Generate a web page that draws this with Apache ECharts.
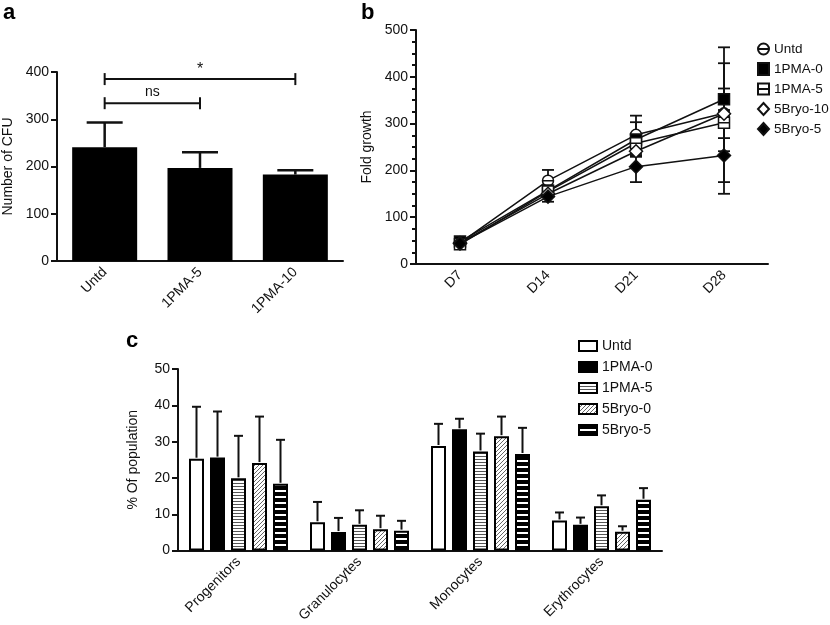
<!DOCTYPE html>
<html>
<head>
<meta charset="utf-8">
<script src="https://cdn.jsdelivr.net/npm/echarts@6/dist/echarts.min.js"></script>
<style>
  html, body { margin: 0; background: #fff; }
  #main { width: 830px; height: 625px; }
</style>
</head>
<body>
<div id="main"></div>
<script>
// panel a: colony forming units
const cfuGroups = ['Untd', '1PMA-5', '1PMA-10'];
const cfuMean = [241, 197, 183];
const cfuErr = [52, 33, 9];
const cfuSig = [[0, 1, 334, 'ns'], [0, 2, 385, '*']];

// panel b: fold growth
const days = ['D7', 'D14', 'D21', 'D28'];
const growthNames = ['Untd', '1PMA-0', '1PMA-5', '5Bryo-10', '5Bryo-5'];
const growthUntd = [45, 178, 276, 322];
const growthPma0 = [48, 157, 266, 352];
const growthPma5 = [42, 155, 258, 302];
const growthBryo10 = [45, 150, 241, 321];
const growthBryo5 = [44, 144, 208, 232];
const growthErrUntd = [3, 23, 41, 53];
const growthErrPma0 = [4, 8, 37, 111];
const growthErrPma5 = [3, 6, 10, 127];
const growthErrBryo10 = [3, 6, 10, 8];
const growthErrBryo5 = [3, 11, 33, 82];

// panel c: population breakdown
const cellTypes = ['Progenitors', 'Granulocytes', 'Monocytes', 'Erythrocytes'];
const popNames = ['Untd', '1PMA-0', '1PMA-5', '5Bryo-0', '5Bryo-5'];
const popUntd = [25.3, 7.8, 28.8, 8.3];
const popPma0 = [25.6, 5.1, 33.4, 7.1];
const popPma5 = [19.9, 7.1, 27.3, 12.2];
const popBryo0 = [24.1, 5.9, 31.5, 5.2];
const popBryo5 = [18.4, 5.5, 26.6, 14.0];
const popErrUntd = [14.3, 5.6, 6.1, 2.2];
const popErrPma0 = [12.7, 3.9, 2.9, 2.0];
const popErrPma5 = [11.7, 4.0, 4.9, 3.0];
const popErrBryo0 = [12.8, 3.7, 5.4, 1.5];
const popErrBryo5 = [12.1, 2.7, 7.2, 3.2];

const FONT = "'Liberation Sans', Arial, sans-serif";
const INK = '#111';
const BAR_W = 15;
const BAR_PITCH = 21;

function pattern(w, h, draw) {
  const c = document.createElement('canvas');
  c.width = w; c.height = h;
  const g = c.getContext('2d');
  g.fillStyle = '#fff';
  g.fillRect(0, 0, w, h);
  draw(g);
  return { image: c, repeat: 'repeat' };
}

const fillHoriz = pattern(2, 3, g => { g.fillStyle = '#555'; g.fillRect(0, 0, 2, 1); });
const fillDiag = pattern(4, 4, g => {
  g.strokeStyle = '#666'; g.lineWidth = 1;
  g.beginPath(); g.moveTo(0, 4); g.lineTo(4, 0); g.moveTo(-1, 1); g.lineTo(1, -1); g.moveTo(3, 5); g.lineTo(5, 3); g.stroke();
});
const fillThick = pattern(2, 6, g => { g.fillStyle = '#000'; g.fillRect(0, 0, 2, 4); });
const popFills = ['#fff', '#000', fillHoriz, fillDiag, fillThick];

const circleLine = 'path://M0,10a10,10 0 1,0 20,0a10,10 0 1,0 -20,0ZM0,10L20,10';
const squareLine = 'path://M0,0L20,0L20,20L0,20ZM0,10L20,10';
const growthSymbols = [circleLine, 'rect', squareLine, 'diamond', 'diamond'];
const growthFills = ['#fff', '#000', '#fff', '#fff', '#000'];
const growthData = [growthUntd, growthPma0, growthPma5, growthBryo10, growthBryo5];
const growthErrs = [growthErrUntd, growthErrPma0, growthErrPma5, growthErrBryo10, growthErrBryo5];
const popData = [popUntd, popPma0, popPma5, popBryo0, popBryo5];
const popErrs = [popErrUntd, popErrPma0, popErrPma5, popErrBryo0, popErrBryo5];

function axisX(gridIndex, data) {
  return {
    type: 'category', gridIndex: gridIndex, data: data,
    axisLine: { lineStyle: { color: INK, width: 2 } },
    axisTick: { alignWithLabel: true, length: 6, lineStyle: { color: INK, width: 2 } },
    axisLabel: { rotate: 45, fontSize: 14, color: INK, fontFamily: FONT, margin: 9 },
    splitLine: { show: false }
  };
}

function axisY(gridIndex, max, interval, name, gap, minor) {
  return {
    type: 'value', gridIndex: gridIndex, min: 0, max: max, interval: interval,
    name: name, nameLocation: 'middle', nameGap: gap,
    nameTextStyle: { fontSize: 14, color: INK, fontFamily: FONT },
    axisLine: { show: true, lineStyle: { color: INK, width: 2 } },
    axisTick: { show: true, length: 6, lineStyle: { color: INK, width: 2 } },
    minorTick: { show: !!minor, splitNumber: 4, length: 4, lineStyle: { color: INK, width: 2 } },
    axisLabel: { fontSize: 14, color: INK, fontFamily: FONT, margin: 8 },
    splitLine: { show: false }
  };
}

// vertical error bar with a cap on top
function errorBar(api, x, yLow, yHigh, cap, width) {
  return [
    { type: 'line', shape: { x1: x, y1: yLow, x2: x, y2: yHigh }, style: { stroke: INK, lineWidth: width } },
    { type: 'line', shape: { x1: x - cap, y1: yHigh, x2: x + cap, y2: yHigh }, style: { stroke: INK, lineWidth: width } }
  ];
}

const series = [];

// a
series.push({
  type: 'bar', xAxisIndex: 0, yAxisIndex: 0, barWidth: 65, data: cfuMean,
  itemStyle: { color: '#000' }, silent: true, z: 2
});
series.push({
  type: 'custom', xAxisIndex: 0, yAxisIndex: 0, z: 3, silent: true,
  data: cfuMean.map((m, i) => [i, m, m + cfuErr[i]]),
  encode: { x: 0, y: [1, 2] },
  renderItem: (params, api) => {
    const lo = api.coord([api.value(0), api.value(1)]);
    const hi = api.coord([api.value(0), api.value(2)]);
    return { type: 'group', children: errorBar(api, lo[0], lo[1], hi[1], 18, 2.5) };
  }
});
series.push({
  type: 'custom', xAxisIndex: 0, yAxisIndex: 0, z: 3, silent: true,
  data: cfuSig, encode: { x: [0, 1], y: 2 },
  renderItem: (params, api) => {
    const a = api.coord([api.value(0), api.value(2)]);
    const b = api.coord([api.value(1), api.value(2)]);
    const s = { stroke: INK, lineWidth: 2 };
    const label = cfuSig[params.dataIndex][3];
    return {
      type: 'group', children: [
        { type: 'line', shape: { x1: a[0], y1: a[1], x2: b[0], y2: b[1] }, style: s },
        { type: 'line', shape: { x1: a[0], y1: a[1] - 6, x2: a[0], y2: a[1] + 6 }, style: s },
        { type: 'line', shape: { x1: b[0], y1: b[1] - 6, x2: b[0], y2: b[1] + 6 }, style: s },
        { type: 'text', x: (a[0] + b[0]) / 2, y: a[1] - (label === '*' ? 1 : 4),
          style: { text: label, fill: INK, font: (label === '*' ? '16px ' : '14px ') + FONT, align: 'center', verticalAlign: 'bottom' } }
      ]
    };
  }
});

// b
growthNames.forEach((name, k) => {
  series.push({
    type: 'line', name: name, xAxisIndex: 1, yAxisIndex: 1, data: growthData[k],
    symbol: growthSymbols[k], symbolSize: k === 3 || k === 4 ? 13 : 11,
    lineStyle: { color: INK, width: 1.5 },
    itemStyle: { color: growthFills[k], borderColor: INK, borderWidth: 1.5 },
    z: 4 + k, silent: true, animation: false
  });
  series.push({
    type: 'custom', xAxisIndex: 1, yAxisIndex: 1, z: 3, silent: true,
    data: growthData[k].map((v, i) => [i, v - growthErrs[k][i], v + growthErrs[k][i]]),
    encode: { x: 0, y: [1, 2] },
    renderItem: (params, api) => {
      const lo = api.coord([api.value(0), api.value(1)]);
      const hi = api.coord([api.value(0), api.value(2)]);
      const s = { stroke: INK, lineWidth: 1.8 };
      return {
        type: 'group', children: [
          { type: 'line', shape: { x1: lo[0], y1: lo[1], x2: hi[0], y2: hi[1] }, style: s },
          { type: 'line', shape: { x1: lo[0] - 6, y1: lo[1], x2: lo[0] + 6, y2: lo[1] }, style: s },
          { type: 'line', shape: { x1: hi[0] - 6, y1: hi[1], x2: hi[0] + 6, y2: hi[1] }, style: s }
        ]
      };
    }
  });
});

// c
popNames.forEach((name, k) => {
  series.push({
    type: 'bar', name: 'c:' + name, xAxisIndex: 2, yAxisIndex: 2, data: popData[k],
    barWidth: BAR_W, barGap: ((BAR_PITCH - BAR_W) / BAR_W * 100) + '%',
    itemStyle: { color: popFills[k], borderColor: '#000', borderWidth: 2 },
    silent: true, z: 2
  });
});
series.push({
  type: 'custom', xAxisIndex: 2, yAxisIndex: 2, z: 3, silent: true,
  data: popData.flatMap((arr, k) => arr.map((m, i) => [i, m, m + popErrs[k][i], k])),
  encode: { x: 0, y: [1, 2] },
  renderItem: (params, api) => {
    const off = (api.value(3) - 2) * BAR_PITCH;
    const lo = api.coord([api.value(0), api.value(1)]);
    const hi = api.coord([api.value(0), api.value(2)]);
    return { type: 'group', children: errorBar(api, lo[0] + off, lo[1] - 1, hi[1], 4.5, 2) };
  }
});

const chart = echarts.init(document.getElementById('main'), null, { renderer: 'canvas' });
chart.setOption({
  backgroundColor: '#fff',
  animation: false,
  textStyle: { fontFamily: FONT },
  grid: [
    { left: 57, top: 72, width: 286, height: 189 },
    { left: 416, top: 30, width: 352, height: 234 },
    { left: 178, top: 369, width: 484, height: 182 }
  ],
  xAxis: [axisX(0, cfuGroups), axisX(1, days), axisX(2, cellTypes)],
  yAxis: [
    axisY(0, 400, 100, 'Number of CFU', 42),
    axisY(1, 500, 100, 'Fold growth', 42, true),
    axisY(2, 50, 10, '% Of population', 38)
  ],
  legend: [
    {
      left: 757, top: 42, padding: 0, orient: 'vertical', itemGap: 6, itemWidth: 11, itemHeight: 12,
      data: growthNames.map((n, k) => ({ name: n, icon: growthSymbols[k] })),
      textStyle: { fontSize: 13.5, color: INK, fontFamily: FONT },
      selectedMode: false
    },
    {
      left: 578, top: 339, padding: 0, orient: 'vertical', itemGap: 7, itemWidth: 18, itemHeight: 10,
      data: popNames.map(n => ({ name: 'c:' + n, icon: 'rect' })),
      formatter: n => n.replace(/^c:/, ''),
      textStyle: { fontSize: 14, color: INK, fontFamily: FONT },
      selectedMode: false
    }
  ],
  graphic: [
    { type: 'text', left: 3, top: 2, style: { text: 'a', font: 'bold 22px ' + FONT, fill: '#000' } },
    { type: 'text', left: 361, top: 2, style: { text: 'b', font: 'bold 22px ' + FONT, fill: '#000' } },
    { type: 'text', left: 126, top: 330, style: { text: 'c', font: 'bold 22px ' + FONT, fill: '#000' } }
  ],
  series: series
});
</script>
</body>
</html>
